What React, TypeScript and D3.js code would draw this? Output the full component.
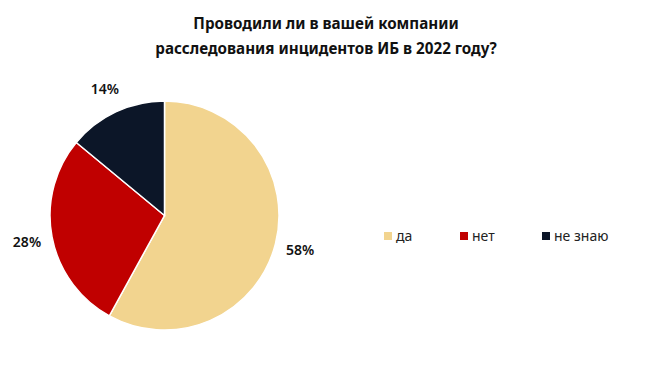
import React from "react";
import * as d3 from "d3";

const categories = ["да", "нет", "не знаю"];
const values = [58, 28, 14];
const colors = ["#F2D48F", "#C00000", "#0C1628"];
const titleLines = ["Проводили ли в вашей компании", "расследования инцидентов ИБ в 2022 году?"];

export default function App() {
  const W = 650, H = 366;
  const cx = 164.5, cy = 215.5, r = 114.5;
  const pie = d3.pie<number>().sort(null).value(d => d);
  const arcs = pie(values);
  const arc = d3.arc<d3.PieArcDatum<number>>().innerRadius(0).outerRadius(r);
  const labelArc = d3.arc<d3.PieArcDatum<number>>().innerRadius(140).outerRadius(140);
  const legendX = [384, 460, 542];
  const font = "'Noto Sans', sans-serif";
  return (
    <svg width={W} height={H} style={{ position: "absolute", left: 0, top: 0 }}>
      <rect width={W} height={H} fill="#fff" />
      {titleLines.map((t, i) => (
        <text key={i} x={326} y={29 + i * 25} textAnchor="middle" fontFamily={font} fontWeight="bold" fontSize={15.2} fill="#111">{t}</text>
      ))}
      <g transform={`translate(${cx},${cy})`}>
        {arcs.map((a, i) => (
          <path key={i} d={arc(a) || ""} fill={colors[i]} stroke="#fff" strokeWidth={1.5} />
        ))}
        {arcs.map((a, i) => {
          const [x, y] = labelArc.centroid(a);
          return (
            <text key={i} x={x} y={y} dy="0.35em" textAnchor="middle" fontFamily={font} fontWeight={600} fontSize={14} fill="#111">{values[i]}%</text>
          );
        })}
      </g>
      {categories.map((c, i) => (
        <g key={i}>
          <rect x={legendX[i]} y={232} width={8} height={8} fill={colors[i]} />
          <text x={legendX[i] + 12} y={236} dy="0.35em" fontFamily={font} fontSize={14} fill="#222">{c}</text>
        </g>
      ))}
    </svg>
  );
}
